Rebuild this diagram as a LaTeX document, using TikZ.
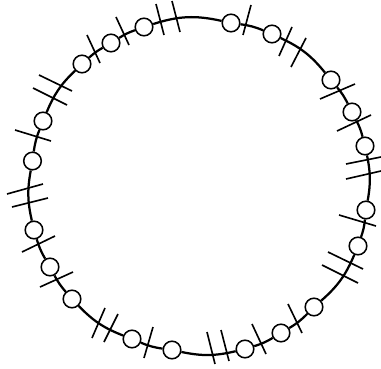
\documentclass[tikz,border=0pt]{standalone}
\usepackage{tikz}
\def\beadlist{32.5/161/7,43/121/11.8,82/64/6.1,111/43/6.3,144/27/15.2,231/23/7.4,272/34/12.9,331/80/6.5,352/112/6.2,365/146/11,366/210/6.3,358/246/12.9,314/307/7.2,281/333/6.7,245/349/12.5,172/350/7.1,132/339/12.3,72/299/6.5,50/267/6.8,34/230/11.7}
\begin{document}
\begin{tikzpicture}[
			x=0.025cm,y=-0.025cm,
			bead/.style={draw,line width=1.1pt,fill=white,circle,inner sep=0pt,minimum size=0.44cm},
			wire/.style={line width=1.6pt},
			tick/.style={line width=1.15pt}
			]
			\useasboundingbox (0,0) rectangle (381,368);
			\foreach \xa/\ya/\h [count=\i] in \beadlist
				\node[bead] (b\i) at (\xa,\ya) {};
			\foreach \xa/\ya/\h [count=\i] in \beadlist {
				\pgfmathtruncatemacro\j{mod(\i,20)+1}
				\draw[wire] (b\i) to[bend left=\h] (b\j);
			}
			\foreach \xa/\ya/\xb/\yb in {15/130/51/141,33/88/67/105,39/75/72/91,87/35/100/63,116/17/129/45,156/4/164/35,172/1/180/32,251/5/243/35,292/27/279/56,306/38/291/67,355/84/320/99,371/115/337/131,381/157/346/164,381/171/346/179,339/215/376/226,328/252/363/269,322/265/358/283,288/304/302/333,252/324/266/354,221/330/229/361,207/332/215/364,153/327/144/358,118/314/104/342,105/308/92/338,73/272/40/287,55/236/22/252,48/198/12/207,43/184/7/194}
				\draw[tick] (\xa,\ya) -- (\xb,\yb);
		\end{tikzpicture}
\end{document}
